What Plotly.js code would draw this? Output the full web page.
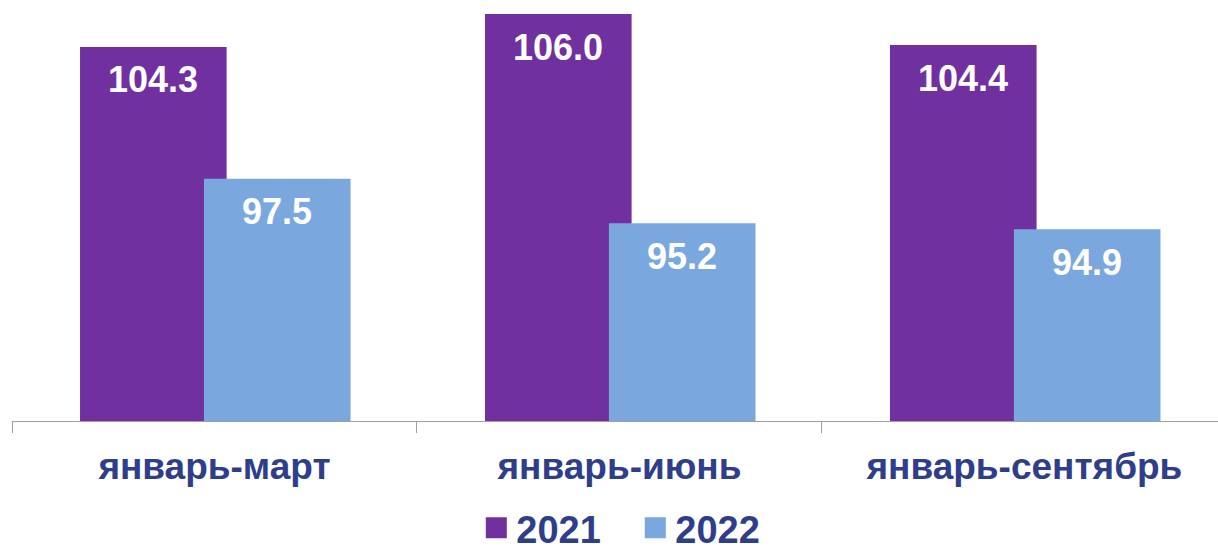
<!DOCTYPE html>
<html>
<head>
<meta charset="utf-8">
<script src="https://cdn.plot.ly/plotly-3.0.1.min.js"></script>
<style>html,body{margin:0;padding:0;background:#fff;}#chart{width:1218px;height:550px;}</style>
</head>
<body>
<div id="chart"></div>
<script>
var categories = ["январь-март", "январь-июнь", "январь-сентябрь"];
var series2021 = [104.3, 106.0, 104.4];
var series2022 = [97.5, 95.2, 94.9];
var seriesNames = ["2021", "2022"];

var FONT = "Liberation Sans, Arial, sans-serif";
var TEXT = "#2F3E8B";
var C2021 = "#7030A0";
var C2022 = "#7BA7DF";
var W = 0.362, OFF1 = -0.332, OFF2 = -0.026;

var traces = [
  {type: "bar", name: seriesNames[0], x: categories, y: series2021, showlegend: false,
   width: W, offset: OFF1, marker: {color: C2021}, hoverinfo: "none"},
  {type: "bar", name: seriesNames[1], x: categories, y: series2022, showlegend: false,
   width: W, offset: OFF2, marker: {color: C2022}, hoverinfo: "none"},
  {type: "scatter", mode: "markers", name: seriesNames[0], x: [null], y: [null], showlegend: true,
   marker: {symbol: "square", size: 16, color: C2021, line: {color: C2021, width: 5}}, hoverinfo: "none"},
  {type: "scatter", mode: "markers", name: seriesNames[1], x: [null], y: [null], showlegend: true,
   marker: {symbol: "square", size: 16, color: C2022, line: {color: C2022, width: 5}}, hoverinfo: "none"}
];

var annotations = [];
function addLabels(vals, off) {
  vals.forEach(function (v, i) {
    annotations.push({xref: "x", yref: "y", x: i + off + W / 2, y: v, yshift: -33,
      text: v.toFixed(1), showarrow: false, xanchor: "center", yanchor: "middle",
      font: {family: FONT, size: 36, color: "#FFFFFF", weight: "bold"}});
  });
}
addLabels(series2021, OFF1);
addLabels(series2022, OFF2);

var layout = {
  width: 1218, height: 550,
  margin: {l: 12, r: 0, t: 14, b: 129, autoexpand: false},
  paper_bgcolor: "#fff", plot_bgcolor: "#fff",
  barmode: "overlay",
  showlegend: true,
  legend: {orientation: "h", x: 0.385, xanchor: "left", y: -0.2629, yanchor: "middle",
    font: {family: FONT, size: 38, color: TEXT, weight: "bold"}, traceorder: "normal",
    entrywidth: 114, entrywidthmode: "pixels"},
  xaxis: {type: "category", range: [-0.5, 2.478], showline: true, linecolor: "#A0A0A0", linewidth: 1,
    ticks: "outside", tickson: "boundaries", ticklen: 11, tickcolor: "#A0A0A0", tickwidth: 1,
    ticklabelstandoff: 13, automargin: false,
    tickfont: {family: FONT, size: 37, color: TEXT, weight: "bold"}, showgrid: false, zeroline: false,
    fixedrange: true},
  yaxis: {range: [85, 106], visible: false, showgrid: false, zeroline: false, fixedrange: true, automargin: false},
  annotations: annotations
};

Plotly.newPlot("chart", traces, layout, {displayModeBar: false, staticPlot: true});
</script>
</body>
</html>
